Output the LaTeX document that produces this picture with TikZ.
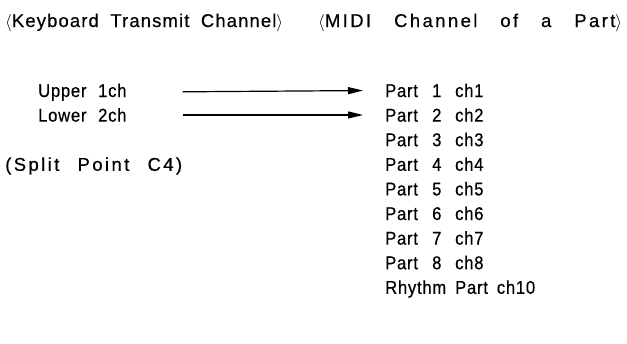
\documentclass[tikz,border=0pt]{standalone}
\usepackage{fontspec}
\setmainfont{Liberation Sans}[LetterSpace=4,FakeStretch=0.9,FakeBold=0.5]
\newfontfamily\widea{Liberation Sans}[LetterSpace=6,FakeBold=0.5]
\newfontfamily\wideb{Liberation Sans}[LetterSpace=13,FakeBold=0.5]
\usetikzlibrary{arrows.meta}
\begin{document}
\begin{tikzpicture}[x=1pt,y=1pt,
  txt/.style={anchor=base west, inner sep=0pt, font=\fontsize{18.5}{21}\selectfont},
  arr/.style={line width=1.2pt, -{Triangle[length=15pt,width=7pt]}, shorten <=56pt, shorten >=22pt}]
\useasboundingbox (0,0) rectangle (627,-343);
\newcommand\pl[3]{\makebox[47pt][l]{#1}\makebox[23pt][l]{#2}#3}
\newcommand\spread[2]{\makebox[#1][s]{#2}}
\node[txt] (t1) at (5,-27) {\widea\spread{278pt}{$\langle$Keyboard Transmit Channel$\rangle$}};
\node[txt] (t2) at (318,-27) {\wideb\spread{304pt}{$\langle$MIDI Channel of a Part$\rangle$}};
\node[txt] (up) at (38,-97) {\makebox[60pt][l]{Upper}1ch};
\node[txt] (lo) at (38,-121.6) {\makebox[60pt][l]{Lower}2ch};
\node[txt] (sp) at (5,-170.8) {\wideb\spread{177pt}{(Split Point C4)}};
\node[txt] (p1) at (385,-97) {\pl{Part}{1}{ch1}};
\node[txt] (p2) at (385,-121.6) {\pl{Part}{2}{ch2}};
\node[txt] (p3) at (385,-146.2) {\pl{Part}{3}{ch3}};
\node[txt] (p4) at (385,-170.8) {\pl{Part}{4}{ch4}};
\node[txt] (p5) at (385,-195.4) {\pl{Part}{5}{ch5}};
\node[txt] (p6) at (385,-220) {\pl{Part}{6}{ch6}};
\node[txt] (p7) at (385,-244.6) {\pl{Part}{7}{ch7}};
\node[txt] (p8) at (385,-269.2) {\pl{Part}{8}{ch8}};
\node[txt] (rh) at (385,-293.8) {\spread{150pt}{Rhythm Part ch10}};
\draw[arr] (up.east) -- (p1.west);
\draw[arr] (lo.east) -- (p2.west);
\end{tikzpicture}
\end{document}
